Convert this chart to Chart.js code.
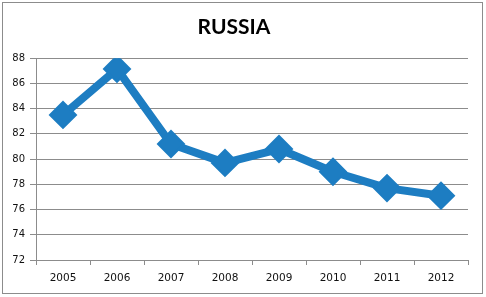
<!DOCTYPE html>
<html>
<head>
<meta charset="utf-8">
<script src="https://cdn.jsdelivr.net/npm/chart.js@4/dist/chart.umd.min.js"></script>
<style>
  html, body { margin: 0; padding: 0; background: #fff; }
  #wrap { position: relative; width: 486px; height: 297px; }
  #frame { position: absolute; left: 2px; top: 2px; width: 479px; height: 290px; border: 1px solid #8c8c8c; pointer-events: none; }
  canvas { position: absolute; left: 0; top: 0; }
</style>
</head>
<body>
<div id="wrap">
  <canvas id="c" width="486" height="297"></canvas>
  <div id="frame"></div>
</div>
<script>
const titleText = 'RUSSIA';
const years = ['2005', '2006', '2007', '2008', '2009', '2010', '2011', '2012'];
const values = [83.5, 87.15, 81.2, 79.7, 80.8, 79.0, 77.7, 77.1];
const yMin = 72;
const yMax = 88;
const yStep = 2;

const blue = '#1d7dc2';
const gridGray = '#8c8c8c';

new Chart(document.getElementById('c'), {
  type: 'line',
  data: {
    labels: years,
    datasets: [{
      data: values,
      borderColor: blue,
      backgroundColor: blue,
      borderWidth: 8,
      tension: 0,
      pointStyle: 'rectRot',
      pointRadius: 13,
      pointBorderWidth: 2,
      pointBorderColor: blue,
      pointBackgroundColor: blue,
      borderJoinStyle: 'round',
      borderCapStyle: 'round'
    }]
  },
  options: {
    responsive: false,
    animation: false,
    devicePixelRatio: 1,
    layout: { padding: { left: 0, right: 18, top: 0, bottom: 0 } },
    plugins: {
      legend: { display: false },
      tooltip: { enabled: false },
      title: {
        display: true,
        text: titleText,
        color: '#000',
        font: { family: 'Lato', size: 21, weight: 'bold', lineHeight: 1.2 },
        padding: { top: 15, bottom: 18 }
      }
    },
    scales: {
      x: {
        offset: true,
        grid: {
          offset: true,
          drawOnChartArea: false,
          drawTicks: true,
          tickLength: 5,
          color: gridGray
        },
        border: { color: gridGray, width: 1 },
        ticks: {
          color: '#111',
          font: { family: 'DejaVu Sans', size: 10.5 },
          padding: 7,
          maxRotation: 0
        },
        afterFit: s => { s.height = 37; }
      },
      y: {
        min: yMin,
        max: yMax,
        grid: {
          color: gridGray,
          drawTicks: true,
          tickLength: 6
        },
        border: { color: gridGray, width: 1 },
        ticks: {
          stepSize: yStep,
          color: '#111',
          font: { family: 'DejaVu Sans', size: 10 },
          padding: 5
        },
        afterFit: s => { s.width = 36; }
      }
    }
  }
});
</script>
</body>
</html>
